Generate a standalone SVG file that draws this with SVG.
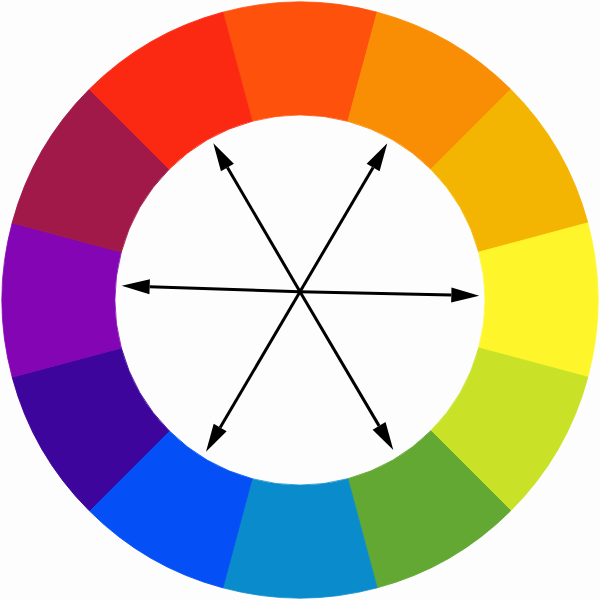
<svg xmlns="http://www.w3.org/2000/svg" width="600" height="600" viewBox="0 0 600 600">
  <defs>
    <path id="seg" d="M222.87,12.15 A298,298 0 0 1 377.13,12.15 L347.88,121.30 A185,185 0 0 0 252.12,121.30 Z"/>
    <marker id="head" markerUnits="userSpaceOnUse" markerWidth="30" markerHeight="16" refX="0" refY="7.5" orient="auto" overflow="visible">
      <path d="M0,0 L28,7.5 L0,15 Z" fill="#000"/>
    </marker>
  </defs>
  <style>
    .s { stroke-width: 0.8; }
    .arrow { stroke: #000; stroke-width: 3; fill: none; marker-end: url(#head); }
  </style>
  <rect width="600" height="600" fill="#FDFDFD"/>
  <g id="wheel">
    <use href="#seg" class="s" fill="#FE520C" stroke="#FE520C" transform="rotate(0 300 300)"/>
    <use href="#seg" class="s" fill="#F98E04" stroke="#F98E04" transform="rotate(30 300 300)"/>
    <use href="#seg" class="s" fill="#F4B502" stroke="#F4B502" transform="rotate(60 300 300)"/>
    <use href="#seg" class="s" fill="#FEF62A" stroke="#FEF62A" transform="rotate(90 300 300)"/>
    <use href="#seg" class="s" fill="#C9E126" stroke="#C9E126" transform="rotate(120 300 300)"/>
    <use href="#seg" class="s" fill="#62A833" stroke="#62A833" transform="rotate(150 300 300)"/>
    <use href="#seg" class="s" fill="#0A8BCB" stroke="#0A8BCB" transform="rotate(180 300 300)"/>
    <use href="#seg" class="s" fill="#0450F6" stroke="#0450F6" transform="rotate(210 300 300)"/>
    <use href="#seg" class="s" fill="#3E059C" stroke="#3E059C" transform="rotate(240 300 300)"/>
    <use href="#seg" class="s" fill="#8405B3" stroke="#8405B3" transform="rotate(270 300 300)"/>
    <use href="#seg" class="s" fill="#A01948" stroke="#A01948" transform="rotate(300 300 300)"/>
    <use href="#seg" class="s" fill="#FC2912" stroke="#FC2912" transform="rotate(330 300 300)"/>
  </g>
  <g id="connectors">
    <line class="arrow" x1="300" y1="291.7" x2="149.68" y2="286.64"/>
    <line class="arrow" x1="300" y1="291.7" x2="451.31" y2="295.08"/>
    <line class="arrow" x1="300" y1="291.7" x2="227.43" y2="167.48"/>
    <line class="arrow" x1="300" y1="291.7" x2="373.10" y2="167.43"/>
    <line class="arrow" x1="300" y1="291.7" x2="220.18" y2="427.56"/>
    <line class="arrow" x1="300" y1="291.7" x2="379.08" y2="425.88"/>
  </g>
</svg>
